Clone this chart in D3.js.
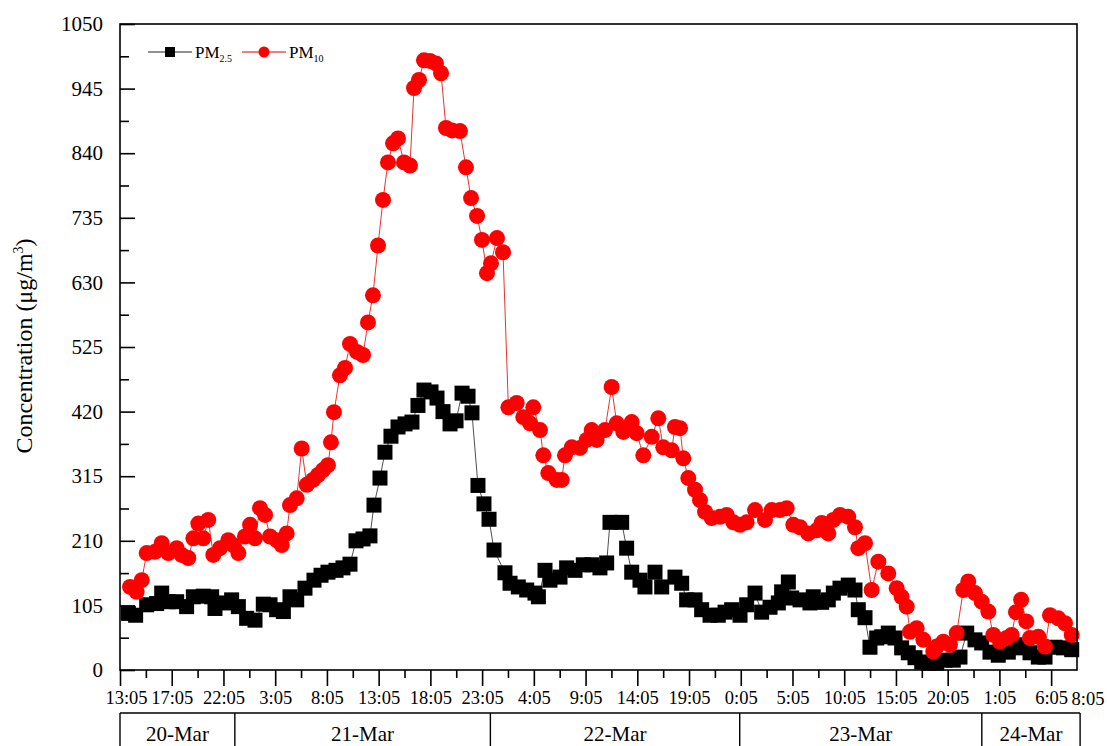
<!DOCTYPE html>
<html>
<head>
<meta charset="utf-8">
<script src="https://cdn.jsdelivr.net/npm/d3@7"></script>
<style>
  body { margin: 0; background: #fff; }
  text { font-family: "Liberation Serif", "Times New Roman", serif; fill: #000; }
</style>
</head>
<body>
<svg id="pm-chart" width="1107" height="746"></svg>
<script>
// time axis is an index: one major tick every 5 units
const pm25Time = [0.81,1.51,2.58,3.54,4.03,4.67,5.48,6.44,7.09,8.05,8.86,9.18,10.15,10.79,11.44,12.24,13.05,13.85,14.5,15.14,15.79,16.43,17.08,17.88,
    18.75,19.43,20.1,20.88,21.55,22.23,22.81,23.49,24.16,24.55,25.13,25.61,26.19,26.87,27.55,28.22,28.8,29.38,30.06,30.64,31.22,31.9,32.48,33.06,33.64,34.02,34.6,35.18,35.67,36.15,
    37.21,37.7,38.5,39.31,40.11,40.44,41.08,41.56,42.53,43.17,43.98,44.78,45.59,46.39,47.04,47.36,48.49,48.97,49.46,50.26,50.74,51.71,52.36,53.64,54.29,54.77,
    55.58,56.22,57.03,57.83,58.48,59.12,59.93,60.57,61.38,62.02,62.83,63.63,63.95,64.6,64.92,65.73,66.69,67.01,67.82,68.46,68.95,69.59,70.39,71.04,71.36,72.01,72.49,73.14,
    73.62,74.26,74.91,75.55,76.19,76.84,77.49,78.13,78.94,79.74,80.54,81.19,81.84,82.64,83.29,84.09,84.89,85.86,86.51,87.15,87.96,88.76,89.41,90.37,91.18,91.99];
const pm25 = [92,89,106,108,125,111,111,103,119,120,119,100,109,114,103,84,81,107,106,98,95,119,114,133,
    146,154,159,162,166,172,210,213,218,268,312,354,380,395,400,403,430,455,452,442,420,400,405,450,445,418,300,270,245,195,
    158,141,135,130,125,119,162,146,151,166,162,171,171,166,174,240,240,198,159,146,135,159,135,151,141,114,
    114,98,89,89,94,98,89,106,125,94,102,109,127,143,117,114,109,119,110,114,125,133,138,130,98,85,37,52,
    54,60,52,36,28,20,13,11,11,16,16,21,60,49,44,29,24,29,41,36,28,21,21,37,36,33];

const pm10Time = [0.97,1.61,2.1,2.58,3.38,4.03,4.67,5.48,5.96,6.6,7.09,7.57,8.05,8.53,9.02,9.67,10.47,10.95,11.44,12.08,12.57,13.05,13.53,14.02,14.5,15.14,15.63,16.11,16.43,17.08,17.56,18.05,
    18.65,19.14,19.62,20.1,20.39,20.68,21.26,21.75,22.23,22.91,23.49,23.97,24.45,24.94,25.42,25.9,26.39,26.87,27.45,28.03,28.42,28.9,29.38,29.96,30.54,31.03,31.51,32.09,32.86,33.44,33.93,34.51,34.99,35.47,35.86,36.44,37.02,
    37.54,38.34,38.98,39.63,39.95,40.6,40.92,41.4,42.21,42.69,43.01,43.66,44.46,45.11,45.59,46.07,46.88,47.52,48.01,48.65,49.46,49.94,50.58,51.39,52.03,52.51,53.32,53.64,54.13,54.45,54.93,
    55.58,56.06,56.55,57.19,57.99,58.64,59.28,59.93,60.57,61.38,62.34,62.99,63.79,64.44,65.08,65.73,66.53,67.34,67.82,68.46,68.95,69.59,70.39,71.04,71.36,72.01,72.65,73.3,
    74.26,75.07,75.55,76.04,76.36,77.0,77.65,78.61,78.94,79.58,80.22,80.87,81.51,81.99,82.64,83.29,83.93,84.41,85.05,85.7,86.18,86.6,87.1,87.6,87.96,88.76,89.41,89.89,90.69,91.34,91.99];
const pm10 = [135,127,146,190,192,206,190,198,187,182,214,238,214,244,187,198,211,203,190,217,236,214,263,252,217,211,203,222,268,279,360,301,
    309,317,325,333,370,419,479,491,530,517,512,565,609,690,764,825,856,864,825,820,946,959,991,990,986,970,881,877,876,817,767,738,699,645,661,702,679,
    427,434,411,401,427,390,349,320,309,309,349,362,361,374,390,374,390,460,401,387,403,385,349,379,409,362,357,395,393,344,312,
    293,276,257,247,249,252,240,236,240,260,244,260,260,263,236,232,222,227,239,222,244,252,249,232,198,206,130,176,
    157,133,119,103,62,68,49,30,38,46,41,60,130,144,125,111,95,57,46,52,57,94,114,79,52,54,38,89,84,76,57];

const xTickLabels = ["13:05","17:05","22:05","3:05","8:05","13:05","18:05","23:05","4:05","9:05",
    "14:05","19:05","0:05","5:05","10:05","15:05","20:05","1:05","6:05"];
const xEndLabel = "8:05";
const yTicks = [0,105,210,315,420,525,630,735,840,945,1050];
const dateLabels = ["20-Mar","21-Mar","22-Mar","23-Mar","24-Mar"];
const dateBreaks = [0, 11.1, 35.8, 59.9, 83.3, 92.8];

(function () {
    const svg = d3.select("#pm-chart");
    const L = 120, R = 1077, T = 24, B = 670;

    const x = d3.scaleLinear().domain([0, 92.5]).range([L, R]);
    const y = d3.scaleLinear().domain([0, 1050]).range([B, T]);

    // series: line under markers, PM10 drawn on top
    const series = [
        { name: "PM", sub: "2.5", t: pm25Time, v: pm25, color: "#000", line: "#222", shape: "square" },
        { name: "PM", sub: "10",  t: pm10Time, v: pm10, color: "#ff0000", line: "#e00000", shape: "circle" }
    ];

    const plot = svg.append("g");
    series.forEach(s => {
        const pts = s.t.map((t, i) => [t, s.v[i]]);
        plot.append("path")
            .datum(pts)
            .attr("fill", "none")
            .attr("stroke", s.line)
            .attr("stroke-width", 0.8)
            .attr("d", d3.line().x(d => x(d[0])).y(d => y(d[1])));
        const g = plot.append("g").attr("fill", s.color);
        if (s.shape === "square") {
            g.selectAll("rect").data(pts).join("rect")
                .attr("x", d => x(d[0]) - 7.5).attr("y", d => y(d[1]) - 7.5)
                .attr("width", 15).attr("height", 15);
        } else {
            g.selectAll("circle").data(pts).join("circle")
                .attr("cx", d => x(d[0])).attr("cy", d => y(d[1]))
                .attr("r", 8);
        }
    });

    // frame
    svg.append("rect")
        .attr("x", L).attr("y", T).attr("width", R - L).attr("height", B - T)
        .attr("fill", "none").attr("stroke", "#000").attr("stroke-width", 1.6);

    // y axis, ticks inside
    const yAxis = svg.append("g")
        .attr("transform", `translate(${L},0)`)
        .call(d3.axisLeft(y).tickValues(yTicks).tickFormat(d3.format("d"))
            .tickSizeInner(-15).tickSizeOuter(0).tickPadding(17));
    yAxis.select(".domain").remove();
    yAxis.selectAll("line").attr("stroke-width", 1.6);
    yAxis.selectAll("text").attr("font-size", "21px").attr("font-family", "Liberation Serif");
    const yMinor = svg.append("g")
        .attr("transform", `translate(${L},0)`)
        .call(d3.axisLeft(y).tickValues(d3.range(52.5, 1050, 105)).tickSizeInner(-9).tickSizeOuter(0).tickFormat(""));
    yMinor.select(".domain").remove();
    yMinor.selectAll("line").attr("stroke-width", 1.6);

    // x axis, ticks outside
    const xAxis = svg.append("g")
        .attr("transform", `translate(0,${B})`)
        .call(d3.axisBottom(x).tickValues(d3.range(0, 91, 5))
            .tickFormat((d, i) => xTickLabels[i]).tickSizeInner(16).tickSizeOuter(0).tickPadding(5));
    xAxis.select(".domain").remove();
    xAxis.selectAll("line").attr("stroke-width", 1.6);
    xAxis.selectAll("text").attr("font-size", "18.5px").attr("font-family", "Liberation Serif");
    xAxis.selectAll("text").filter((d, i) => i === 0).attr("dx", 6);
    const xMinor = svg.append("g")
        .attr("transform", `translate(0,${B})`)
        .call(d3.axisBottom(x).tickValues(d3.range(2.5, 92.5, 5)).tickSizeInner(8).tickSizeOuter(0).tickFormat(""));
    xMinor.select(".domain").remove();
    xMinor.selectAll("line").attr("stroke-width", 1.6);
    svg.append("text")
        .attr("x", x(92.5) + 11).attr("y", B + 35)
        .attr("text-anchor", "middle").attr("font-size", "18.5px")
        .text(xEndLabel);

    // date row
    const dateY = 713;
    svg.append("line")
        .attr("x1", x(dateBreaks[0])).attr("x2", x(dateBreaks[dateBreaks.length - 1]))
        .attr("y1", dateY).attr("y2", dateY)
        .attr("stroke", "#000").attr("stroke-width", 1.4);
    svg.selectAll(".date-sep").data(dateBreaks).join("line")
        .attr("class", "date-sep")
        .attr("x1", d => x(d)).attr("x2", d => x(d))
        .attr("y1", dateY).attr("y2", 746)
        .attr("stroke", "#000").attr("stroke-width", 1.4);
    svg.selectAll(".date-label").data(dateLabels).join("text")
        .attr("class", "date-label")
        .attr("x", (d, i) => (x(dateBreaks[i]) + x(dateBreaks[i + 1])) / 2)
        .attr("y", 741)
        .attr("text-anchor", "middle")
        .attr("font-size", "21px")
        .text(d => d);

    // y title
    const yt = svg.append("text")
        .attr("transform", "translate(32,346) rotate(-90)")
        .attr("text-anchor", "middle")
        .attr("font-size", "24px");
    yt.append("tspan").text("Concentration (\u03bcg/m");
    yt.append("tspan").attr("font-size", "14px").attr("dy", -9).text("3");
    yt.append("tspan").attr("dy", 9).text(")");

    // legend
    const leg = svg.append("g");
    const legX = [148, 242];
    series.forEach((s, i) => {
        const lx = legX[i], ly = 52;
        leg.append("line")
            .attr("x1", lx).attr("x2", lx + 44).attr("y1", ly).attr("y2", ly)
            .attr("stroke", s.line).attr("stroke-width", 1);
        if (s.shape === "square") {
            leg.append("rect").attr("x", lx + 17).attr("y", ly - 5)
                .attr("width", 10).attr("height", 10).attr("fill", s.color);
        } else {
            leg.append("circle").attr("cx", lx + 22).attr("cy", ly).attr("r", 5.5).attr("fill", s.color);
        }
        const t = leg.append("text").attr("x", lx + 47).attr("y", ly + 6).attr("font-size", "17px");
        t.append("tspan").text(s.name);
        t.append("tspan").attr("font-size", "10px").attr("dy", 4).text(s.sub);
    });
})();
</script>
</body>
</html>
